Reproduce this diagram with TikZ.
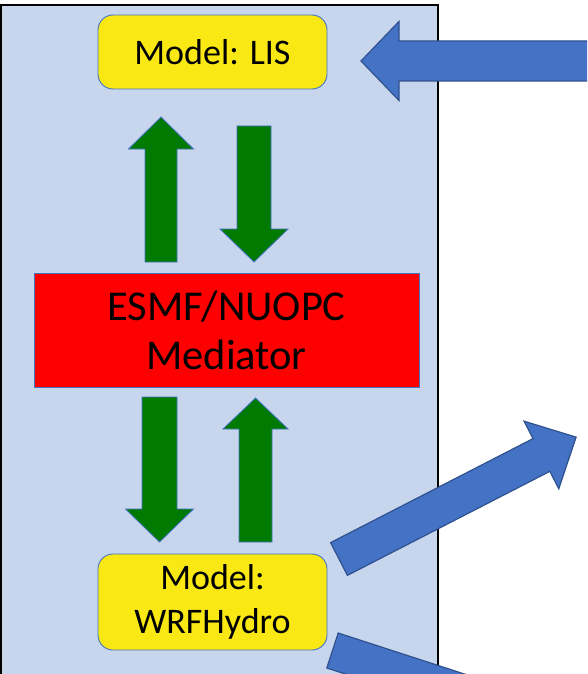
\documentclass[tikz,border=0pt]{standalone}
\usepackage{fontspec}
\setmainfont{Carlito}
\definecolor{panelblue}{HTML}{C7D5ED}
\definecolor{boxyellow}{HTML}{F9E814}
\definecolor{accblue}{HTML}{4472C4}
\definecolor{edgeblue}{HTML}{2F528F}
\definecolor{medred}{HTML}{FF0000}
\definecolor{flowgreen}{HTML}{007A00}
% #1 style, #2 #3 tail centre, #4 angle, #5 length, #6 shaft half-width, #7 head half-width, #8 head length
\newcommand{\blockarrow}[8]{%
  \draw[#1, shift={(#2,#3)}, rotate=#4]
    (0,-#6) -- ({#5-#8},-#6) -- ({#5-#8},-#7) -- (#5,0) -- ({#5-#8},#7) -- ({#5-#8},#6) -- (0,#6) -- cycle;}
\begin{document}
\begin{tikzpicture}[x=1pt,y=-1pt,
  panel/.style={fill=panelblue, draw=black, line width=1.2pt},
  modelbox/.style={draw=accblue, line width=0.9pt, fill=boxyellow, rounded corners=15pt,
    minimum width=229pt, minimum height=74pt, inner sep=0pt, align=center,
    font=\fontsize{36}{44}\selectfont},
  medbox/.style={draw=accblue, line width=0.9pt, fill=medred,
    minimum width=385pt, minimum height=114pt, inner sep=0pt, align=center,
    font=\fontsize{42.5}{49}\selectfont},
  greenarrow/.style={fill=flowgreen, draw=accblue, line width=0.8pt},
  bluearrow/.style={fill=accblue, draw=edgeblue, line width=1.2pt}
]
\useasboundingbox (0,0) rectangle (587,674);
\clip (0,0) rectangle (587,674);
\fill[white] (0,0) rectangle (587,674);
\draw[panel] (1,5) rectangle (438,700);

\node[modelbox] (lis) at (212.5,52) {Model: LIS};
\node[medbox] (med) at (226.5,330) {ESMF/NUOPC\\Mediator};
\node[modelbox, minimum height=96pt] (wrf) at (212.5,602) {Model:\\WRFHydro};

% green exchange arrows
\blockarrow{greenarrow}{161}{262}{90}{145}{16}{32.5}{32}
\blockarrow{greenarrow}{254}{126}{-90}{136}{17}{34}{33}
\blockarrow{greenarrow}{159.5}{397}{-90}{145}{17.5}{34}{33}
\blockarrow{greenarrow}{255.5}{542}{90}{144}{16.5}{32.5}{31}

% blue external arrows
\blockarrow{bluearrow}{610}{61}{180}{249}{20}{39.5}{38}
\blockarrow{bluearrow}{339}{559}{27.2}{266.6}{18.4}{38}{39}
\blockarrow{bluearrow}{332.5}{650.5}{-18}{300}{18.4}{38}{39}
\end{tikzpicture}
\end{document}
